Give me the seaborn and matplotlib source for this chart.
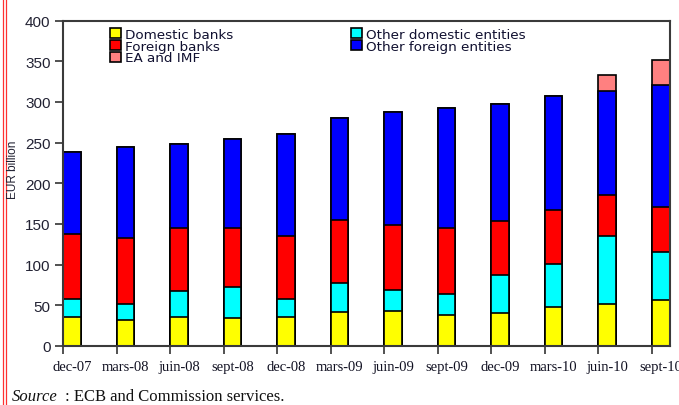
import numpy as np
import matplotlib
matplotlib.use("Agg")
import matplotlib.pyplot as plt
from matplotlib.lines import Line2D
from matplotlib.patches import Patch
import seaborn as sns

# Quarter labels
periods = ["dec-07", "mars-08", "juin-08", "sept-08", "dec-08", "mars-09",
           "juin-09", "sept-09", "dec-09", "mars-10", "juin-10", "sept-10"]

# Holdings by creditor group, EUR billion
domestic_banks = [36, 32, 36, 34, 36, 42, 43, 38, 40, 48, 52, 56]
other_domestic = [22, 20, 32, 38, 22, 36, 26, 26, 47, 53, 83, 59]
foreign_banks = [80, 81, 77, 73, 77, 77, 80, 81, 66, 66, 50, 56]
other_foreign = [100, 111, 103, 109, 125, 125, 138, 148, 144, 140, 128, 150]
ea_imf = [0, 0, 0, 0, 0, 0, 0, 0, 0, 0, 20, 30]

series_names = ["Domestic banks", "Other domestic entities", "Foreign banks",
                "Other foreign entities", "EA and IMF"]
series_values = [domestic_banks, other_domestic, foreign_banks, other_foreign, ea_imf]
series_colors = ["#FFFF00", "#00FFFF", "#FF0000", "#0000FF", "#FF8080"]

yticks = [0, 50, 100, 150, 200, 250, 300, 350, 400]

sns.set_style("ticks")
W, H = 679, 406
fig = plt.figure(figsize=(W / 100, H / 100), dpi=100)
ax = fig.add_axes([63 / W, 1 - 347 / H, (669.5 - 63) / W, (347 - 21.5) / H])

# Stack: draw cumulative totals from the top layer down so each layer sits on the previous
cum = np.cumsum(np.array(series_values, dtype=float), axis=0)
bar_w = 0.33
for i in range(len(series_names) - 1, -1, -1):
    sns.barplot(x=periods, y=cum[i], color=series_colors[i], saturation=1,
                width=bar_w, edgecolor="black", linewidth=1.2, ax=ax, zorder=2)

ax.set_ylim(0, 400)
ax.set_xlim(-bar_w / 2, len(periods) - 1 + bar_w / 2)
ax.set_yticks(yticks)
ax.set_yticklabels([str(v) for v in yticks], fontsize=11,
                   family="Liberation Sans", color="#222233")

# Tick marks at the bar edges, labels under the bar centers
pos = np.arange(len(periods))
ax.set_xticks(pos - bar_w / 2)
ax.set_xticklabels([])
ax.set_xticks(pos, minor=True)
ax.set_xticklabels(periods, minor=True, fontsize=10.5,
                   family="Liberation Serif", color="#111122")
ax.tick_params(axis="x", which="major", length=6, width=1.2, color="#333333", direction="out")
ax.tick_params(axis="x", which="minor", length=0, pad=10)
ax.tick_params(axis="y", length=6, width=1.2, color="#333333", direction="out", pad=3)
ax.set_xlabel("")
ax.set_ylabel("")

for side in ["left", "bottom", "top", "right"]:
    ax.spines[side].set_visible(True)
    ax.spines[side].set_color("#3a3a3a")
    ax.spines[side].set_linewidth(1.5)

# Legend: two columns, filled column by column
order = [0, 2, 4, 1, 3]
handles = [Patch(facecolor=series_colors[k], edgecolor="black", linewidth=1.2) for k in order]
labels = [series_names[k] for k in order]
fig.legend(handles, labels, ncol=2, loc="upper left",
           bbox_to_anchor=(110 / W, 1 - 29 / H), frameon=False,
           borderpad=0, borderaxespad=0, handlelength=0.8, handleheight=0.75,
           handletextpad=0.3, labelspacing=-0.1, columnspacing=8.75,
           prop={"family": "DejaVu Sans", "size": 9.7},
           labelcolor="#101030")

fig.text(13 / W, 1 - 170 / H, "EUR billion", rotation=90, ha="center", va="center",
         fontsize=8.5, family="Liberation Sans", color="#222233")

fig.text(12 / W, 1 - 401 / H, "Source", ha="left", va="baseline", fontsize=12,
         family="Liberation Serif", style="italic", color="#111111")
fig.text(65 / W, 1 - 401 / H, ": ECB and Commission services.", ha="left", va="baseline",
         fontsize=12, family="Liberation Serif", color="#111111")

# Page margin rules on the left
for xp in (2.5, 5.5):
    fig.add_artist(Line2D([xp / W, xp / W], [0, 1], transform=fig.transFigure,
                          color="#FF3030", linewidth=0.9))

fig.savefig("out.png", dpi=100)
